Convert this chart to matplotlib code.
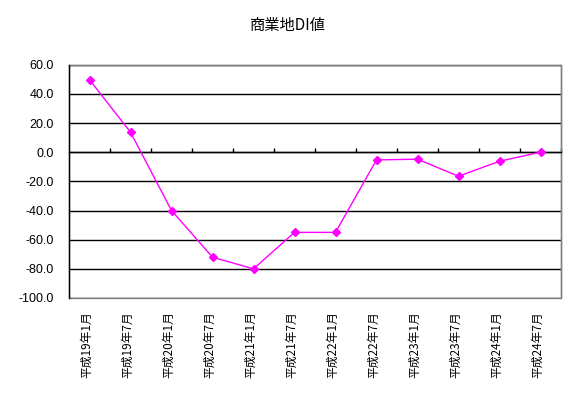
import matplotlib
matplotlib.use("Agg")
import matplotlib.pyplot as plt
import matplotlib.transforms as mtransforms
from matplotlib.patches import Rectangle

plt.rcParams['font.family'] = ['Noto Sans CJK JP', 'DejaVu Sans']

title = "商業地DI値"
categories = ["平成19年1月", "平成19年7月", "平成20年1月", "平成20年7月",
              "平成21年1月", "平成21年7月", "平成22年1月", "平成22年7月",
              "平成23年1月", "平成23年7月", "平成24年1月", "平成24年7月"]
values = [49.7, 13.7, -40.0, -72.0, -80.0, -55.0, -55.0, -5.3, -4.8, -16.5, -6.2, 0.0]
yticks = [60, 40, 20, 0, -20, -40, -60, -80, -100]

fig = plt.figure(figsize=(5.76, 3.98), dpi=100)
ax = fig.add_axes([69/576, 1-298/398, (561-69)/576, (298-64.7)/398])

x = list(range(len(categories)))
ax.plot(x, values, color='#FF00FF', lw=1, marker='D', ms=4.2, mec='#FF00FF', mfc='#FF00FF', zorder=3)

ax.set_xlim(-0.5, len(categories) - 0.5)
ax.set_ylim(-100, 60)
ax.set_yticks(yticks)
ax.set_yticklabels([f"{v:.1f}" for v in yticks], fontsize=9, family=['Liberation Sans'])
ax.tick_params(axis='y', length=0, pad=11)

ax.set_axisbelow(True)
ax.yaxis.grid(True, color='black', lw=1)

for s in ['top', 'right']:
    ax.spines[s].set_color('#808080')
    ax.spines[s].set_linewidth(1)
ax.spines['left'].set_color('black')
ax.spines['left'].set_linewidth(1)
ax.spines['left'].set_zorder(4)
ax.spines['bottom'].set_position(('data', 0))
ax.spines['bottom'].set_color('black')
ax.spines['bottom'].set_linewidth(1)

ax.add_patch(Rectangle((0, 0), 1, 1, transform=ax.transAxes, fill=False,
                       edgecolor='#808080', lw=1, zorder=2.4, clip_on=False))

bounds = [i + 0.5 for i in range(len(categories))]
ax.set_xticks(bounds)
ax.tick_params(axis='x', direction='in', length=3, width=1, color='black', labelbottom=False)

trans = mtransforms.blended_transform_factory(ax.transData, ax.transAxes)
for i, lab in enumerate(categories):
    ax.text(i - 0.06, -0.056, lab, rotation=90, ha='center', va='top', fontsize=8.5, transform=trans)

fig.text(0.5, 1-25/398, title, ha='center', va='center', fontsize=11)

fig.savefig("out.png", dpi=100)
